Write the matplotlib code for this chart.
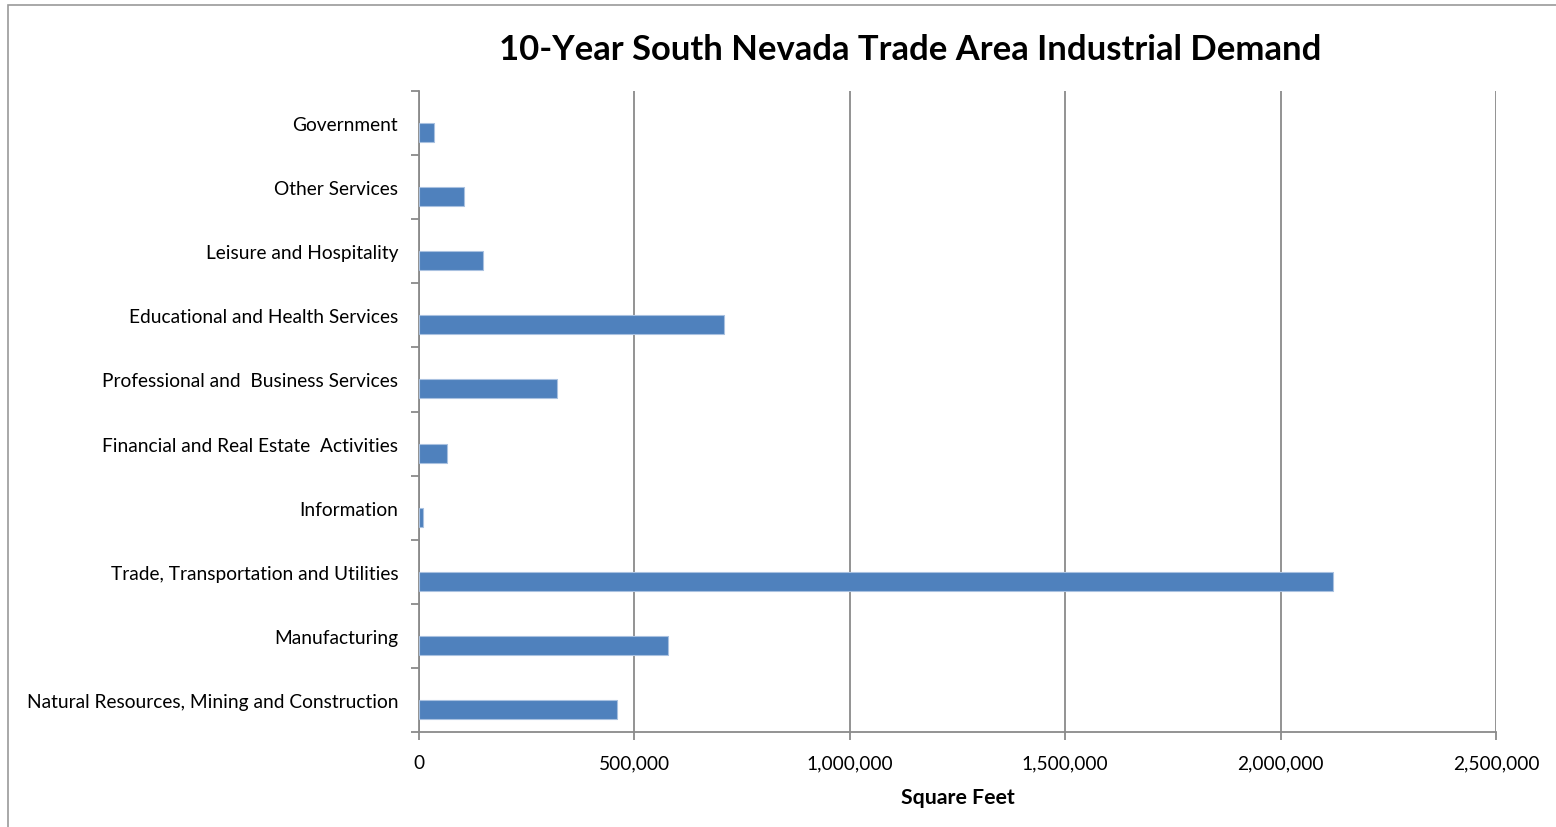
import matplotlib
matplotlib.use("Agg")
import matplotlib.pyplot as plt
from matplotlib.patches import Rectangle
from matplotlib.ticker import FuncFormatter, MultipleLocator
import numpy as np

plt.rcParams['font.family'] = ['Lato', 'DejaVu Sans']

# industries, bottom to top
categories = [
    'Natural Resources, Mining and Construction',
    'Manufacturing',
    'Trade, Transportation and Utilities',
    'Information',
    'Financial and Real Estate  Activities',
    'Professional and  Business Services',
    'Educational and Health Services',
    'Leisure and Hospitality',
    'Other Services',
    'Government',
]
# 10-year demand, square feet
demand = [460000, 577000, 2122000, 9000, 64000, 320000, 709000, 148000, 104000, 35000]

grid_gray = '#8a8a8a'
bar_blue = '#4f81bd'

fig = plt.figure(figsize=(15.56, 8.28), dpi=100)
ax = fig.add_axes([419 / 1556, 1 - 733 / 828, 1077 / 1556, 641 / 828])

# chart area border
fig.patches.append(Rectangle((8 / 1556, -0.1), 1.2, 1.1 - 6 / 828,
                             transform=fig.transFigure, fill=False,
                             edgecolor='#9a9a9a', linewidth=1.2))

y = np.arange(len(categories))
bar_h = 0.297
ax.barh(y - bar_h / 2, demand, height=bar_h, color=bar_blue,
        edgecolor='#a9c1e0', linewidth=0.8, zorder=3)

ax.set_xlim(0, 2500000)
ax.set_ylim(-0.5, len(categories) - 0.5)
ax.xaxis.set_major_locator(MultipleLocator(500000))
ax.xaxis.set_major_formatter(FuncFormatter(lambda v, p: f'{int(v):,}'))
ax.grid(axis='x', color=grid_gray, linewidth=1.3, zorder=0)

ax.set_yticks(y)
ax.set_yticklabels(categories)
ax.set_yticks(np.arange(-0.5, len(categories)), minor=True)
ax.tick_params(axis='y', which='major', length=0, pad=15, labelsize=13.8)
ax.tick_params(axis='y', which='minor', length=6, width=1.3, color=grid_gray)
ax.tick_params(axis='x', length=6, width=1.3, color=grid_gray, pad=10, labelsize=13.8)

for side in ['top', 'right']:
    ax.spines[side].set_visible(False)
for side in ['left', 'bottom']:
    ax.spines[side].set_color(grid_gray)
    ax.spines[side].set_linewidth(1.3)

ax.set_xlabel('Square Feet', fontsize=15.3, fontweight='bold', labelpad=11)
fig.text(910 / 1556, 1 - 50 / 828, '10-Year South Nevada Trade Area Industrial Demand',
         ha='center', va='center', fontsize=24.9, fontweight='bold')

fig.savefig('out.png', dpi=100)
